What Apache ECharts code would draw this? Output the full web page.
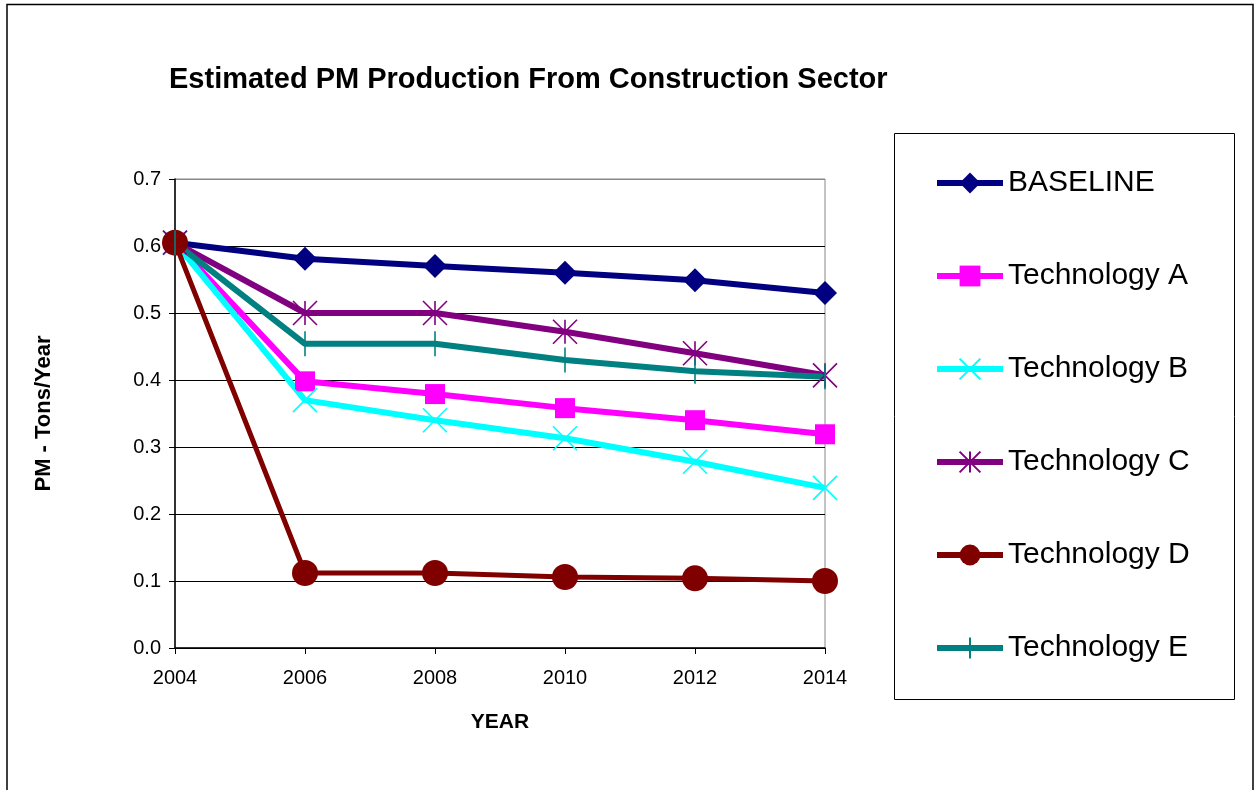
<!DOCTYPE html>
<html>
<head>
<meta charset="utf-8">
<script src="https://cdn.jsdelivr.net/npm/echarts@6/dist/echarts.min.js"></script>
<style>
  html, body { margin: 0; padding: 0; background: #fff; }
  #main { width: 1256px; height: 790px; }
</style>
</head>
<body>
<div id="main"></div>
<script>
var years = ['2004', '2006', '2008', '2010', '2012', '2014'];

var baseline = [0.605, 0.581, 0.570, 0.560, 0.549, 0.530];
var techA = [0.605, 0.398, 0.379, 0.358, 0.340, 0.319];
var techB = [0.605, 0.370, 0.340, 0.313, 0.278, 0.239];
var techC = [0.605, 0.500, 0.500, 0.472, 0.440, 0.407];
var techD = [0.605, 0.112, 0.112, 0.106, 0.104, 0.100];
var techE = [0.605, 0.454, 0.454, 0.430, 0.413, 0.405];

var chart = echarts.init(document.getElementById('main'));
var font = 'Liberation Sans, Arial, sans-serif';

// outline-only marks (the extra moveTo points keep a square bounding box)
var xMark = 'path://M0,0L10,10M10,0L0,10';
var starMark = 'path://M0,0L10,10M10,0L0,10M5,0L5,10';
var tickMark = 'path://M0,0M10,10M5,0L5,10';

function line(name, data, color, symbol, size, width, stroked) {
  var s = {
    name: name,
    type: 'line',
    data: data,
    symbol: symbol,
    symbolSize: size,
    showAllSymbol: true,
    lineStyle: { color: color, width: width },
    itemStyle: { color: color },
    emphasis: { disabled: true }
  };
  if (stroked) {
    s.itemStyle = { color: 'rgba(0,0,0,0)', borderColor: color, borderWidth: 1.6 };
  }
  return s;
}

var option = {
  animation: false,
  backgroundColor: '#fff',
  textStyle: { fontFamily: font },
  title: {
    text: 'Estimated PM Production From Construction Sector',
    left: 164,
    top: 60,
    textStyle: { fontFamily: font, fontSize: 29, fontWeight: 'bold', color: '#000' }
  },
  graphic: [
    { type: 'rect', shape: { x: 7, y: 4.5, width: 1246, height: 800 },
      style: { fill: 'none', stroke: '#000', lineWidth: 1.5 }, silent: true, z: -1 },
    { type: 'rect', shape: { x: 894.5, y: 133.5, width: 340, height: 566 },
      style: { fill: 'none', stroke: '#000', lineWidth: 1 }, silent: true, z: -1 }
  ],
  legend: {
    orient: 'vertical',
    left: 929,
    top: 163,
    itemWidth: 66,
    itemHeight: 26,
    itemGap: 63,
    lineStyle: { width: 6 },
    textStyle: { fontFamily: font, fontSize: 30, color: '#000' }
  },
  grid: { left: 175, right: 431, top: 179, bottom: 142, show: true, borderColor: '#888', borderWidth: 1 },
  xAxis: {
    type: 'category',
    data: years,
    boundaryGap: false,
    name: 'YEAR',
    nameLocation: 'middle',
    nameGap: 64,
    nameTextStyle: { fontFamily: font, fontSize: 21, fontWeight: 'bold', color: '#000' },
    axisLine: { lineStyle: { color: '#000', width: 1.5 } },
    axisTick: { show: true, length: 6, alignWithLabel: true, lineStyle: { color: '#000' } },
    axisLabel: { fontFamily: font, fontSize: 20, color: '#000', margin: 20 },
    splitLine: { show: false }
  },
  yAxis: {
    type: 'value',
    min: 0,
    max: 0.7,
    interval: 0.1,
    name: 'PM - Tons/Year',
    nameLocation: 'middle',
    nameRotate: 90,
    nameGap: 120,
    nameTextStyle: { fontFamily: font, fontSize: 22, fontWeight: 'bold', color: '#000', padding: [0, 0, 0, 0] },
    axisLine: { show: true, lineStyle: { color: '#000', width: 1.5 } },
    axisTick: { show: true, length: 6, lineStyle: { color: '#000' } },
    axisLabel: {
      fontFamily: font, fontSize: 20, color: '#000', margin: 14,
      formatter: function (v) { return v.toFixed(1); }
    },
    splitLine: { show: true, lineStyle: { color: ['#000', '#000', '#000', '#000', '#000', '#000', '#000', '#888'], width: 1 } }
  },
  series: [
    line('BASELINE', baseline, '#000080', 'diamond', 24, 6, false),
    line('Technology A', techA, '#ff00ff', 'rect', 20, 6, false),
    line('Technology B', techB, '#00ffff', xMark, 24, 6, true),
    line('Technology C', techC, '#800080', starMark, 24, 6, true),
    line('Technology D', techD, '#800000', 'circle', 26, 5, false),
    line('Technology E', techE, '#008080', tickMark, 25, 6, true)
  ]
};

chart.setOption(option);
</script>
</body>
</html>
